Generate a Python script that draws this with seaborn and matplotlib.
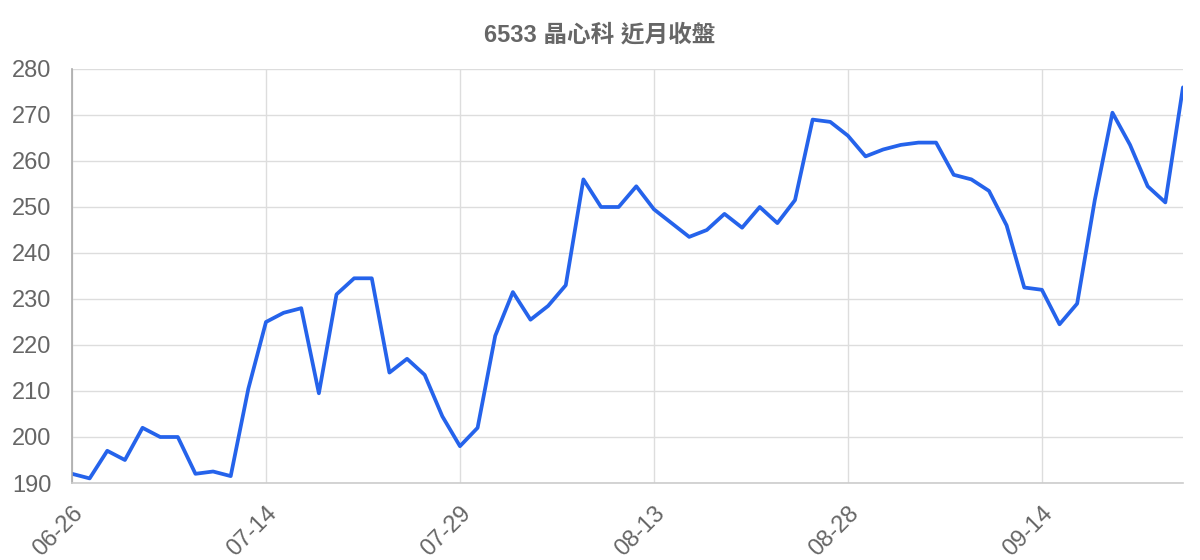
import matplotlib
matplotlib.use("Agg")
import matplotlib.pyplot as plt
import seaborn as sns
import pandas as pd

# closing prices, one per trading day (64 points)
close = [
    192, 191, 197, 195, 202, 200, 200, 192, 192.5, 191.5,
    210.5, 225, 227, 228, 209.5, 231, 234.5, 234.5, 214, 217,
    213.5, 204.5, 198, 202, 222, 231.5, 225.5, 228.5, 233, 256,
    250, 250, 254.5, 249.5, 246.5, 243.5, 245, 248.5, 245.5, 250,
    246.5, 251.5, 269, 268.5, 265.5, 261, 262.5, 263.5, 264, 264,
    257, 256, 253.5, 246, 232.5, 232, 224.5, 229, 251.5, 270.5,
    263.5, 254.5, 251, 276,
]
tick_pos = [0, 11, 22, 33, 44, 55]
tick_labels = ["06-26", "07-14", "07-29", "08-13", "08-28", "09-14"]
y_ticks = [190, 200, 210, 220, 230, 240, 250, 260, 270, 280]

df = pd.DataFrame({"idx": range(len(close)), "close": close})

sns.set_theme(style="white")
plt.rcParams["font.family"] = ["Liberation Sans", "Noto Sans CJK TC", "DejaVu Sans"]

fig = plt.figure(figsize=(12, 5.6), dpi=100)
ax = fig.add_axes([0.06, 0.1375, 0.9258, 0.7393])

sns.lineplot(data=df, x="idx", y="close", ax=ax, color="#2563eb", linewidth=2.7)

ax.set_xlim(0, len(close) - 1)
ax.set_ylim(190, 280)
ax.set_xticks(tick_pos)
ax.set_xticklabels(tick_labels, rotation=45, ha="right", rotation_mode="anchor")
ax.set_yticks(y_ticks)
ax.set_xlabel("")
ax.set_ylabel("")

ax.grid(True, color="#dddddd", linewidth=1)
ax.set_axisbelow(True)
ax.tick_params(axis="both", length=13, color="#dddddd", width=1,
               labelsize=17, labelcolor="#666666")
ax.tick_params(axis="y", pad=2)
ax.tick_params(axis="x", pad=1)

for side in ["top", "right"]:
    ax.spines[side].set_visible(False)
ax.spines["left"].set_color("#aaaaaa")
ax.spines["bottom"].set_color("#cccccc")
ax.spines["left"].set_linewidth(1.2)
ax.spines["bottom"].set_linewidth(1.2)

fig.text(0.5, 0.937, "6533 晶心科 近月收盤", ha="center", va="center",
         fontsize=17, fontweight="bold", color="#666666")

fig.savefig("out.png", dpi=100)
